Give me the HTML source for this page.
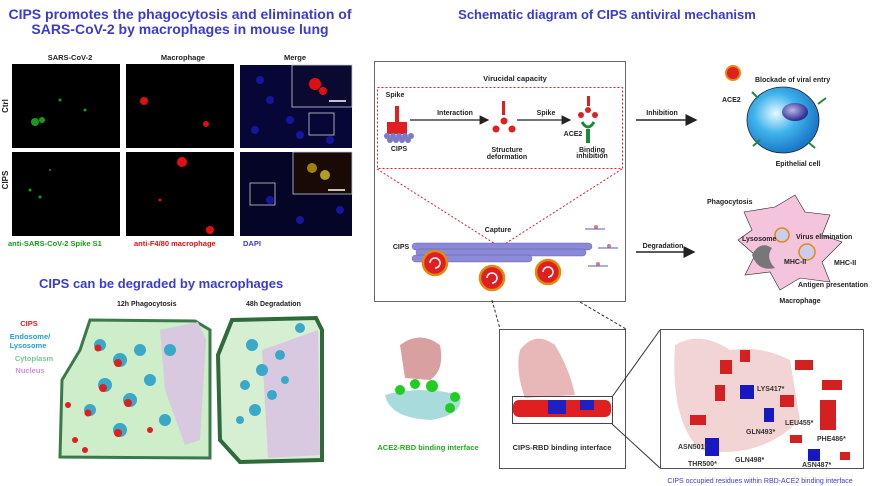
<!DOCTYPE html>
<html><head><meta charset="utf-8"><style>
html,body{margin:0;padding:0;background:#fff;width:886px;height:486px;overflow:hidden}
svg text{font-family:"Liberation Sans",Arial,sans-serif;font-weight:bold}
</style></head><body>
<svg width="886" height="486" viewBox="0 0 886 486" xmlns="http://www.w3.org/2000/svg">
<defs>
<radialGradient id="cell" cx="40%" cy="40%" r="60%"><stop offset="0" stop-color="#e8f8ff"/><stop offset="0.5" stop-color="#3fb4ec"/><stop offset="1" stop-color="#1a78c8"/></radialGradient>
<radialGradient id="nuc" cx="40%" cy="40%" r="60%"><stop offset="0" stop-color="#b8b8e8"/><stop offset="1" stop-color="#2a2a90"/></radialGradient>
<marker id="ah" markerWidth="8" markerHeight="8" refX="7" refY="4" orient="auto"><path d="M0,0 L8,4 L0,8 Z" fill="#222"/></marker>
</defs>
<text x="180" y="19" font-size="14" fill="#3b3bd0" text-anchor="middle">CIPS promotes the phagocytosis and elimination of</text>
<text x="180" y="34" font-size="14" fill="#3b3bd0" text-anchor="middle">SARS-CoV-2 by macrophages in mouse lung</text>
<text x="607" y="19" font-size="13" fill="#3b3bd0" text-anchor="middle">Schematic diagram of CIPS antiviral mechanism</text>
<g font-size="7.5" fill="#222" text-anchor="middle">
<text x="70" y="60">SARS-CoV-2</text><text x="183" y="60">Macrophage</text><text x="295" y="60">Merge</text>
</g>
<text transform="translate(8,106) rotate(-90)" font-size="8" text-anchor="middle" fill="#222">Ctrl</text>
<text transform="translate(8,180) rotate(-90)" font-size="8" text-anchor="middle" fill="#222">CIPS</text>
<g fill="#000">
<rect x="12" y="64" width="108" height="84"/><rect x="126" y="64" width="108" height="84"/><rect x="240" y="65" width="112" height="83"/>
<rect x="12" y="152" width="108" height="84"/><rect x="126" y="152" width="108" height="84"/><rect x="240" y="152" width="112" height="84"/>
</g>
<g fill="#1a9a1a"><circle cx="35" cy="122" r="4"/><circle cx="42" cy="120" r="3"/><circle cx="60" cy="100" r="1.5"/><circle cx="85" cy="110" r="1.5"/><circle cx="30" cy="190" r="1.5"/><circle cx="40" cy="197" r="1.5"/><circle cx="50" cy="170" r="1"/></g>
<g fill="#e01010"><circle cx="144" cy="101" r="4"/><circle cx="206" cy="124" r="3"/><circle cx="182" cy="162" r="5"/><circle cx="210" cy="230" r="4"/><circle cx="160" cy="200" r="1.5"/></g>
<g fill="#1818b0" opacity="0.9"><rect x="240" y="65" width="112" height="83" opacity="0.35"/><rect x="240" y="152" width="112" height="84" opacity="0.25"/>
<circle cx="260" cy="80" r="4"/><circle cx="270" cy="100" r="4"/><circle cx="290" cy="120" r="4"/><circle cx="300" cy="135" r="4"/><circle cx="255" cy="130" r="4"/><circle cx="330" cy="140" r="4"/><circle cx="270" cy="200" r="4"/><circle cx="300" cy="220" r="4"/><circle cx="340" cy="210" r="4"/></g>
<g fill="none" stroke="#ccc" stroke-width="0.8"><rect x="292" y="65" width="60" height="42"/><rect x="309" y="113" width="25" height="22"/><rect x="293" y="152" width="59" height="42"/><rect x="250" y="183" width="25" height="22"/></g>
<rect x="293" y="66" width="58" height="40" fill="#0a0a30"/><circle cx="315" cy="84" r="6" fill="#e01010"/><circle cx="323" cy="91" r="4" fill="#e01010"/>
<rect x="294" y="153" width="57" height="40" fill="#1a0a05"/><circle cx="312" cy="168" r="5" fill="#a08010"/><circle cx="325" cy="175" r="5" fill="#b0a020"/>
<g stroke="#fff" stroke-width="1.5"><line x1="329" y1="101" x2="346" y2="101"/><line x1="328" y1="190" x2="345" y2="190"/></g>
<g font-size="7.5"><text x="8" y="246" fill="#1a9a1a">anti-SARS-CoV-2 Spike S1</text><text x="134" y="246" fill="#e01010">anti-F4/80 macrophage</text><text x="243" y="246" fill="#3b3bd0">DAPI</text></g>
<text x="39" y="288" font-size="13" fill="#3b3bd0">CIPS can be degraded by macrophages</text>
<g font-size="7" fill="#222"><text x="117" y="306">12h Phagocytosis</text><text x="246" y="306">48h Degradation</text></g>
<g font-size="7.5" text-anchor="middle"><text x="29" y="326" fill="#e02020">CIPS</text><text x="30" y="339" fill="#1aa0d0">Endosome/</text><text x="28" y="348" fill="#1aa0d0">Lysosome</text><text x="34" y="361" fill="#7ac890">Cytoplasm</text><text x="30" y="373" fill="#d090d8">Nucleus</text></g>
<path d="M90,320 L195,321 L210,330 L210,458 L60,457 L62,380 L80,350 Z" fill="#cdeec8" stroke="#3a7a4a" stroke-width="3"/>
<path d="M160,330 L198,322 L206,340 L200,440 L185,445 L165,390 Z" fill="#d8c8e0"/>
<g fill="#3aa8c8"><circle cx="100" cy="345" r="6"/><circle cx="120" cy="360" r="7"/><circle cx="140" cy="350" r="6"/><circle cx="105" cy="385" r="7"/><circle cx="130" cy="400" r="7"/><circle cx="150" cy="380" r="6"/><circle cx="165" cy="420" r="6"/><circle cx="120" cy="430" r="7"/><circle cx="90" cy="410" r="6"/><circle cx="170" cy="350" r="6"/></g>
<g fill="#e02020"><circle cx="98" cy="348" r="3.5"/><circle cx="118" cy="363" r="4"/><circle cx="103" cy="388" r="4"/><circle cx="128" cy="403" r="4"/><circle cx="118" cy="433" r="4"/><circle cx="88" cy="413" r="3.5"/><circle cx="75" cy="440" r="3"/><circle cx="68" cy="405" r="3"/><circle cx="85" cy="450" r="3"/><circle cx="150" cy="430" r="3"/></g>
<path d="M232,320 L316,318 L322,330 L322,460 L240,462 L220,440 L218,355 Z" fill="#d6eed2" stroke="#2f6a3a" stroke-width="4"/>
<path d="M262,350 L318,330 L320,455 L268,458 Z" fill="#d8c8e0"/>
<g fill="#3aa8c8"><circle cx="252" cy="345" r="6"/><circle cx="262" cy="370" r="6"/><circle cx="245" cy="385" r="5"/><circle cx="272" cy="395" r="5"/><circle cx="255" cy="410" r="6"/><circle cx="280" cy="355" r="5"/><circle cx="285" cy="380" r="4"/><circle cx="300" cy="328" r="5"/><circle cx="240" cy="420" r="4"/></g>
<rect x="374.5" y="61.5" width="251" height="240" fill="#fff" stroke="#666" stroke-width="1"/>
<text x="515" y="81" font-size="7.5" fill="#222" text-anchor="middle">Virucidal capacity</text>
<rect x="377.5" y="87.5" width="245" height="81" fill="none" stroke="#e02020" stroke-dasharray="2,2"/>
<line x1="377" y1="169" x2="500" y2="247" stroke="#e02020" stroke-dasharray="2,2"/>
<line x1="622" y1="169" x2="500" y2="247" stroke="#e02020" stroke-dasharray="2,2"/>
<rect x="395" y="106" width="4" height="18" fill="#e02020"/><rect x="387" y="122" width="20" height="12" fill="#e02020"/>
<g fill="#7a7ac8"><circle cx="387" cy="136" r="3"/><circle cx="393" cy="136" r="3"/><circle cx="399" cy="136" r="3"/><circle cx="405" cy="136" r="3"/><circle cx="411" cy="136" r="3"/><circle cx="390" cy="140" r="3"/><circle cx="396" cy="140" r="3"/><circle cx="402" cy="140" r="3"/><circle cx="408" cy="140" r="3"/></g>
<line x1="410" y1="120" x2="488" y2="120" stroke="#222" stroke-width="1.2" marker-end="url(#ah)"/>
<line x1="517" y1="120" x2="570" y2="120" stroke="#222" stroke-width="1.2" marker-end="url(#ah)"/>
<rect x="502" y="101" width="3" height="14" fill="#e02020"/><g fill="#e02020"><circle cx="504" cy="121" r="3.5"/><circle cx="496" cy="129" r="3.5"/><circle cx="512" cy="129" r="3.5"/></g>
<rect x="587" y="96" width="3" height="10" fill="#e02020"/><g fill="#e02020"><circle cx="588" cy="110" r="3"/><circle cx="581" cy="115" r="3"/><circle cx="595" cy="115" r="3"/></g>
<path d="M582,122 Q588,132 594,122" stroke="#1a8a3a" stroke-width="3" fill="none"/><rect x="586" y="129" width="4" height="14" fill="#1a8a3a"/>
<line x1="636" y1="120" x2="696" y2="120" stroke="#222" stroke-width="1.5" marker-end="url(#ah)"/>
<line x1="636" y1="252" x2="694" y2="252" stroke="#222" stroke-width="1.5" marker-end="url(#ah)"/>
<g fill="#8a8ad8" stroke="#5050a0" stroke-width="0.4">
<rect x="412" y="243" width="180" height="7" rx="3.5"/><rect x="416" y="249" width="170" height="7" rx="3.5"/><rect x="412" y="255" width="120" height="7" rx="3.5"/>
</g>
<g stroke="#e08a10" stroke-width="2.5" fill="#e02020">
<circle cx="435" cy="263" r="12"/><circle cx="492" cy="278" r="12"/><circle cx="548" cy="272" r="12"/>
</g>
<g stroke="#fff" stroke-width="1.5" fill="none"><path d="M435,263 m-5,0 a5,5 0 1,1 5,5"/><path d="M492,278 m-5,0 a5,5 0 1,1 5,5"/><path d="M548,272 m-5,0 a5,5 0 1,1 5,5"/></g>
<g fill="#d08080"><circle cx="596" cy="227" r="2"/><circle cx="609" cy="246" r="2"/><circle cx="598" cy="264" r="2"/></g>
<g stroke="#5a5ab0"><line x1="585" y1="229" x2="605" y2="229"/><line x1="598" y1="248" x2="618" y2="248"/><line x1="588" y1="266" x2="608" y2="266"/></g>
<g font-size="7" fill="#222" text-anchor="middle">
<text x="395" y="97">Spike</text><text x="399" y="151">CIPS</text><text x="455" y="115">Interaction</text><text x="546" y="115">Spike</text>
<text x="507" y="152">Structure</text><text x="507" y="159">deformation</text><text x="592" y="152">Binding</text><text x="592" y="158">inhibition</text><text x="573" y="136">ACE2</text>
<text x="498" y="232">Capture</text><text x="401" y="249">CIPS</text>
<text x="662" y="115">Inhibition</text><text x="663" y="248">Degradation</text>
</g>
<!-- epithelial cell -->
<ellipse cx="783" cy="120" rx="36" ry="33" fill="url(#cell)" stroke="#222" stroke-width="0.8"/>
<ellipse cx="795" cy="112" rx="13" ry="9" fill="url(#nuc)"/>
<circle cx="733" cy="73" r="7" fill="#e02020" stroke="#e08a10" stroke-width="2"/>
<g stroke="#1a8a3a" stroke-width="2" fill="none"><path d="M752,92 l6,6"/><path d="M818,104 l8,-6"/><path d="M760,140 l-7,6"/><path d="M808,142 l7,6"/></g>
<g font-size="7" fill="#222"><text x="755" y="82">Blockade of viral entry</text><text x="722" y="102">ACE2</text><text x="798" y="166" text-anchor="middle">Epithelial cell</text></g>
<!-- macrophage -->
<path d="M744,212 L775,207 L795,195 L805,212 L830,215 L822,235 L842,242 L822,262 L830,282 L800,278 L780,290 L770,272 L745,275 L755,255 L738,240 L752,230 Z" fill="#f4c4dc" stroke="#222" stroke-width="0.6"/>
<path d="M752,255 Q760,240 772,248 Q765,258 775,268 Q758,272 752,255Z" fill="#777"/>
<circle cx="782" cy="235" r="7" fill="#cce" stroke="#e08a10" stroke-width="1.5"/><circle cx="807" cy="252" r="8" fill="#cce" stroke="#e08a10" stroke-width="1.5"/>
<g font-size="7" fill="#222">
<text x="707" y="204">Phagocytosis</text><text x="796" y="239">Virus elimination</text><text x="742" y="241">Lysosome</text><text x="784" y="264">MHC-II</text><text x="834" y="265">MHC-II</text><text x="798" y="287">Antigen presentation</text><text x="800" y="303" text-anchor="middle">Macrophage</text></g>
<g stroke="#333" stroke-dasharray="3,2" fill="none"><line x1="492" y1="300" x2="500" y2="329"/><line x1="580" y1="302" x2="626" y2="329"/></g>
<rect x="499.5" y="329.5" width="126" height="139" fill="#fff" stroke="#555"/>
<rect x="660.5" y="329.5" width="203" height="139" fill="#fff" stroke="#555"/>
<g stroke="#333"><line x1="612" y1="397" x2="660" y2="330"/><line x1="612" y1="424" x2="660" y2="468"/></g>
<path d="M520,350 Q535,330 555,345 Q570,370 575,395 L525,398 Q515,370 520,350Z" fill="#e8b8b8"/>
<rect x="513" y="400" width="98" height="17" rx="6" fill="#e02020"/><rect x="548" y="400" width="18" height="14" fill="#2020c0"/><rect x="580" y="400" width="14" height="10" fill="#2020c0"/>
<rect x="512.5" y="396.5" width="100" height="27" fill="none" stroke="#444"/>
<text x="562" y="450" font-size="7.5" fill="#333" text-anchor="middle">CIPS-RBD binding interface</text>
<path d="M400,345 Q420,330 440,345 Q445,370 430,380 L405,378 Z" fill="#d8a0a0"/>
<path d="M385,395 Q420,385 460,395 Q465,415 430,420 Q390,418 385,395Z" fill="#a8dcdc"/>
<g fill="#22cc22"><circle cx="400" cy="390" r="5"/><circle cx="415" cy="384" r="5"/><circle cx="432" cy="386" r="6"/><circle cx="455" cy="397" r="5"/><circle cx="450" cy="408" r="5"/></g>
<text x="428" y="450" font-size="7.5" fill="#22aa22" text-anchor="middle">ACE2-RBD binding interface</text>
<path d="M675,345 Q700,330 730,350 Q760,345 790,360 L800,420 Q760,460 700,450 Q670,420 675,345Z" fill="#f2d4d4"/>
<g fill="#d42020"><rect x="720" y="360" width="12" height="14"/><rect x="740" y="350" width="10" height="12"/><rect x="795" y="360" width="18" height="10"/><rect x="715" y="385" width="10" height="16"/><rect x="690" y="415" width="16" height="10"/><rect x="780" y="395" width="14" height="12"/><rect x="790" y="435" width="12" height="8"/><rect x="820" y="400" width="16" height="30"/><rect x="840" y="452" width="10" height="8"/><rect x="822" y="380" width="20" height="10"/></g>
<g fill="#1818c0"><rect x="740" y="385" width="14" height="14"/><rect x="764" y="408" width="10" height="14"/><rect x="705" y="438" width="14" height="18"/><rect x="808" y="449" width="12" height="12"/></g>
<g font-size="7" fill="#333"><text x="757" y="391">LYS417*</text><text x="785" y="425">LEU455*</text><text x="746" y="434">GLN493*</text><text x="678" y="449">ASN501*</text><text x="817" y="441">PHE486*</text><text x="688" y="466">THR500*</text><text x="735" y="462">GLN498*</text><text x="802" y="467">ASN487*</text></g>
<text x="760" y="483" font-size="7" fill="#3b3bd0" text-anchor="middle" style="font-weight:normal">CIPS occupied residues within RBD-ACE2 binding interface</text>
</svg>
</body></html>
